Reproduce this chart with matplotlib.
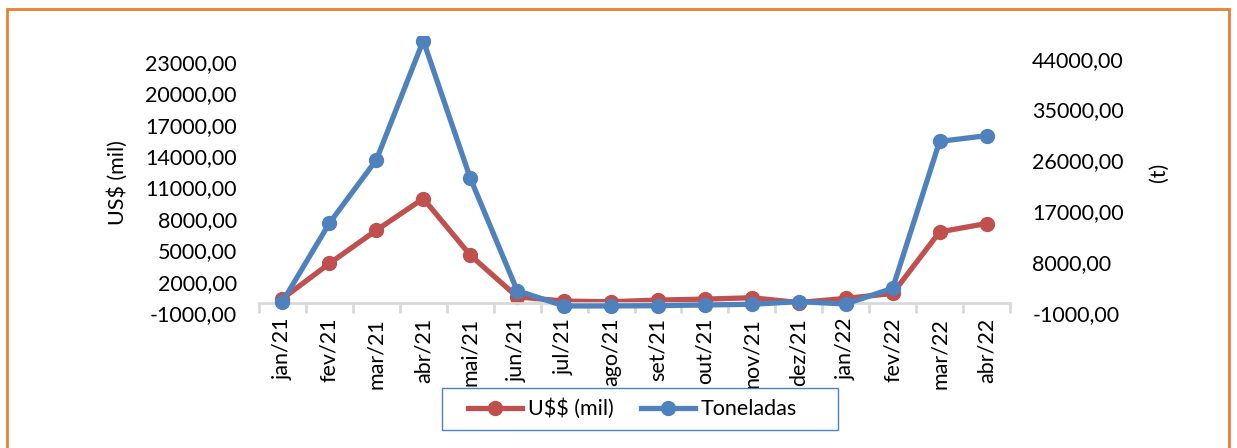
import matplotlib
matplotlib.use('Agg')
import matplotlib.pyplot as plt
from matplotlib.ticker import FixedLocator, FuncFormatter
from matplotlib.patches import Rectangle

plt.rcParams['font.family'] = ['Lato', 'DejaVu Sans']
plt.rcParams['text.parse_math'] = False  # labels contain literal $ signs

months = ['jan/21', 'fev/21', 'mar/21', 'abr/21', 'mai/21', 'jun/21', 'jul/21', 'ago/21',
          'set/21', 'out/21', 'nov/21', 'dez/21', 'jan/22', 'fev/22', 'mar/22', 'abr/22']
usd_mil = [380, 3740, 6920, 9950, 4540, 550, 140, 80,
           240, 330, 460, 0, 400, 870, 6760, 7560]
toneladas = [1010, 14900, 26100, 47200, 22880, 2960, 250, 250,
             300, 425, 550, 1010, 600, 3380, 29360, 30370]

left_ticks = [-1000, 2000, 5000, 8000, 11000, 14000, 17000, 20000, 23000]
right_ticks = [-1000, 8000, 17000, 26000, 35000, 44000]

RED = '#C0504D'
BLUE = '#4F81BD'
FS = 15.5
W, H = 1237, 448

def br_fmt(v, pos):
	return ('%.2f' % v).replace('.', ',')

fig = plt.figure(figsize=(W / 100, H / 100), dpi=100)
ax = fig.add_axes([0.2094, 0.3013, 0.6071, 0.6183])
ax2 = ax.twinx()

x = list(range(len(months)))
ax.plot(x, usd_mil, color=RED, lw=3.8, marker='o', ms=10, label='U$$ (mil)')
ax2.plot(x, toneladas, color=BLUE, lw=3.8, marker='o', ms=10, label='Toneladas')

ax.set_xlim(-0.5, len(months) - 0.5)
ax.set_ylim(-1000, 25500)
ax2.set_ylim(-1000, 48000)

for a in (ax, ax2):
	a.patch.set_visible(False)
	for s in ('left', 'right', 'top'):
		a.spines[s].set_visible(False)
ax2.spines['bottom'].set_visible(False)
ax.spines['bottom'].set_position(('data', 0))
ax.spines['bottom'].set_color('#D9D9D9')
ax.spines['bottom'].set_linewidth(2)

# category labels below the plot, tick marks on category boundaries
ax.set_xticks(x)
ax.set_xticklabels(months, rotation=90, va='top', ha='center', fontsize=FS)
ax.set_xticks([i - 0.5 for i in range(len(months) + 1)], minor=True)
ax.tick_params(axis='x', which='major', length=0, pad=11)
ax.tick_params(axis='x', which='minor', length=7, width=2, color='#D9D9D9', direction='out')

ax.yaxis.set_major_locator(FixedLocator(left_ticks))
ax.yaxis.set_major_formatter(FuncFormatter(br_fmt))
ax.tick_params(axis='y', length=0, pad=16, labelsize=FS)
ax2.yaxis.set_major_locator(FixedLocator(right_ticks))
ax2.yaxis.set_major_formatter(FuncFormatter(br_fmt))
ax2.tick_params(axis='y', length=0, pad=16, labelsize=FS)

fig.text(118 / W, 0.5915, 'US$ (mil)', rotation=90, ha='center', va='center', fontsize=FS)
fig.text(1159 / W, 0.616, '(t)', rotation=90, ha='center', va='center', fontsize=FS)

# legend entries without their own frame, boxed by a wider white rectangle
h1, l1 = ax.get_legend_handles_labels()
h2, l2 = ax2.get_legend_handles_labels()
leg = fig.legend(h1 + h2, l1 + l2, loc='center left', bbox_to_anchor=(449 / W, 1 - 409 / H),
				 ncol=2, fontsize=FS, frameon=False, handlelength=2.5,
				 handletextpad=0.25, columnspacing=1.3, borderpad=0.4)
fig.patches.append(Rectangle((442 / W, 1 - 430 / H), 396 / W, 42 / H,
							 transform=fig.transFigure, facecolor='white',
							 edgecolor=BLUE, lw=1, zorder=4))

# orange frame around the whole chart
fig.patches.append(Rectangle((7 / W, -0.2), 1222 / W, 1.2 - 9 / H,
							 transform=fig.transFigure, fill=False,
							 edgecolor='#ED7D31', lw=2))

fig.savefig('out.png', dpi=100)
